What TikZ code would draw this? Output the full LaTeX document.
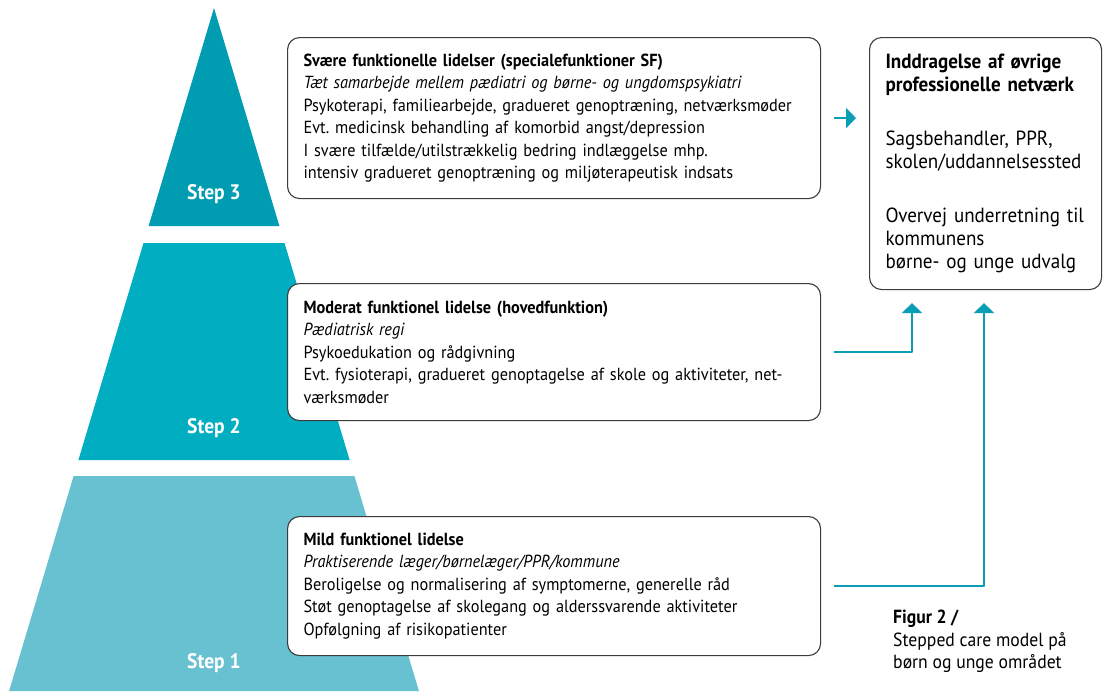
\documentclass[tikz,border=0pt]{standalone}
\usepackage{fontspec}
\setmainfont{PT Sans}[FakeStretch=0.93]
\usetikzlibrary{arrows.meta}
\frenchspacing

\definecolor{stepthree}{RGB}{0,156,178}
\definecolor{steptwo}{RGB}{0,173,193}
\definecolor{stepone}{RGB}{103,193,208}
\definecolor{arrowteal}{RGB}{10,158,180}
\definecolor{boxline}{RGB}{60,60,60}

\tikzset{
  levelbox/.style={draw=boxline, line width=1.1pt, rounded corners=12pt, fill=white,
    anchor=north west, inner xsep=16pt, inner ysep=0pt, align=left,
    font=\fontsize{17.5}{22.5}\selectfont},
  steplabel/.style={text=white, anchor=base, font=\fontsize{21}{25}\selectfont\bfseries},
  netarrow/.style={draw=arrowteal, line width=2.4pt, -{Triangle[width=20pt,length=10pt]},
    shorten <=13pt, shorten >=13pt},
}

\begin{document}
\begin{tikzpicture}[x=1pt, y=-1pt, line join=round]
  \useasboundingbox (0,0) rectangle (1107,691);

  \coordinate (T) at (214,8);

  \coordinate (A3) at (148.6,226);
  \coordinate (B3) at (279.4,226);

  \coordinate (A2) at (143.5,243);
  \coordinate (B2) at (284.5,243);
  \coordinate (C2) at (349.6,460);
  \coordinate (D2) at (78.4,460);

  \coordinate (A1) at (73.6,476);
  \coordinate (B1) at (354.4,476);
  \coordinate (C1) at (418.9,691);
  \coordinate (D1) at (9.1,691);

  \fill[stepthree] (T)--(B3)--(A3)--cycle;
  \fill[steptwo] (A2)--(B2)--(C2)--(D2)--cycle;
  \fill[stepone] (A1)--(B1)--(C1)--(D1)--cycle;

  \node[steplabel] (s3) at (214,199) {Step 3};
  \node[steplabel] (s2) at (214,433) {Step 2};
  \node[steplabel] (s1) at (214,668) {Step 1};

  \node[levelbox, text width=501pt, minimum height=161pt] (sf) at (287,37) {%
    \textbf{Svære funktionelle lidelser (specialefunktioner SF)}\\
    \textit{Tæt samarbejde mellem pædiatri og børne- og ungdomspsykiatri}\\
    Psykoterapi, familiearbejde, gradueret genoptræning, netværksmøder\\
    Evt. medicinsk behandling af komorbid angst/depression\\
    I svære tilfælde/utilstrækkelig bedring indlæggelse mhp.\\
    intensiv gradueret genoptræning og miljøterapeutisk indsats};

  \node[levelbox, text width=501pt, minimum height=137pt] (hf) at (287,283) {%
    \textbf{Moderat funktionel lidelse (hovedfunktion)}\\
    \textit{Pædiatrisk regi}\\
    Psykoedukation og rådgivning\\
    Evt. fysioterapi, gradueret genoptagelse af skole og aktiviteter, net-\\
    værksmøder};

  \node[levelbox, text width=501pt, minimum height=139pt] (mild) at (287,516) {%
    \textbf{Mild funktionel lidelse}\\
    \textit{Praktiserende læger/børnelæger/PPR/kommune}\\
    Beroligelse og normalisering af symptomerne, generelle råd\\
    Støt genoptagelse af skolegang og alderssvarende aktiviteter\\
    Opfølgning af risikopatienter};

  \node[levelbox, text width=200pt, minimum height=252pt,
        font=\fontsize{20.5}{23}\selectfont] (net) at (869,37) {%
    \textbf{Inddragelse af øvrige}\\
    \textbf{professionelle netværk}\\[31pt]
    Sagsbehandler, PPR,\\
    skolen/uddannelsessted\\[31pt]
    Overvej underretning til\\
    kommunens\\
    børne- og unge udvalg};

  \coordinate (in2) at ([xshift=43pt]net.south west);
  \coordinate (in1) at ([xshift=115pt]net.south west);

  \draw[netarrow] (sf.east) -- (sf.east -| net.west);
  \draw[netarrow] (hf.east) -| (in2);
  \draw[netarrow] (mild.east) -| (in1);

  \node[anchor=north west, align=left, inner sep=0pt,
        font=\fontsize{19}{22.5}\selectfont] (caption) at (893,610) {%
    \textbf{Figur 2 /}\\
    Stepped care model på\\
    børn og unge området};
\end{tikzpicture}
\end{document}
